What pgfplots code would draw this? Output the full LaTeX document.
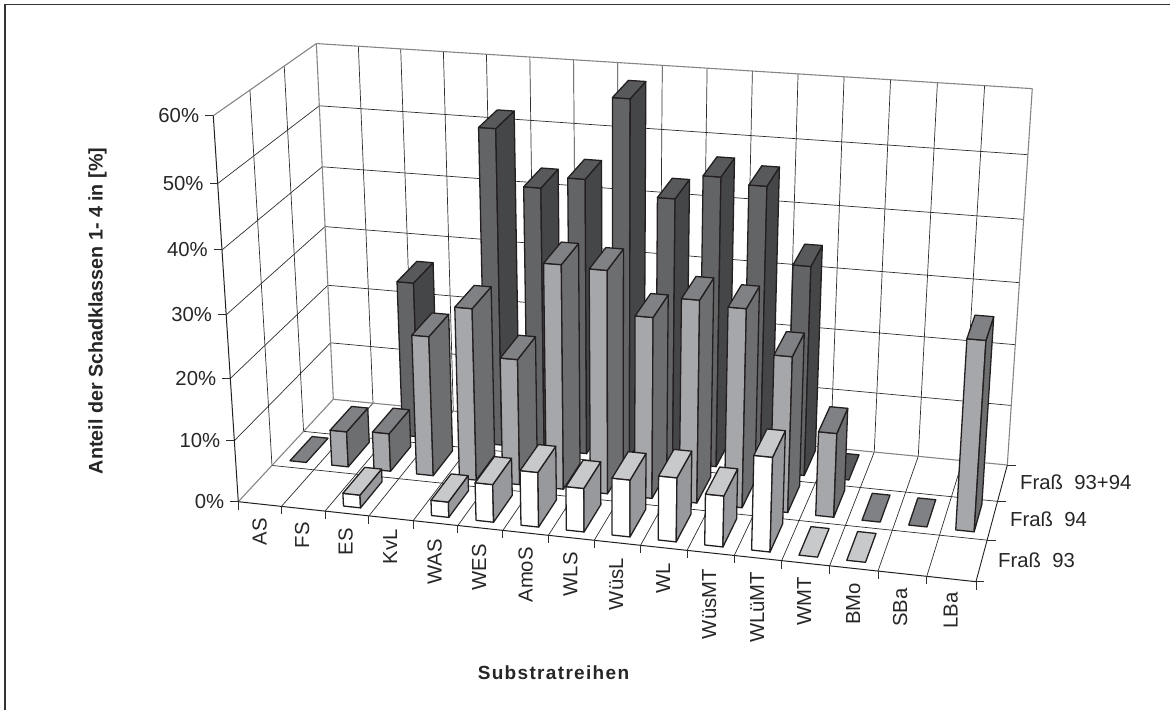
\documentclass[border=0pt]{standalone}
\usepackage{pgfplots}
\usepackage{pgfplotstable}
\usepackage{fontspec}
\pgfplotsset{compat=1.18}
\setmainfont{Liberation Sans}

\definecolor{edge}{HTML}{231F20}
\definecolor{gridline}{HTML}{2E2E2E}
\definecolor{wallline}{HTML}{858585}
\definecolor{fA}{HTML}{FFFFFF}\definecolor{tA}{HTML}{C8C9CB}\definecolor{sA}{HTML}{97999C}
\definecolor{fB}{HTML}{A6A7AA}\definecolor{tB}{HTML}{808184}\definecolor{sB}{HTML}{6D6E70}
\definecolor{fC}{HTML}{636466}\definecolor{tC}{HTML}{58595B}\definecolor{sC}{HTML}{454648}

% Anteil in % per substrate series; cat = position on the substrate axis
\pgfplotstableread{
cat val
2 2.1
4 2.5
5 6.1
6 8.8
7 7.0
8 9.1
9 10.2
10 8.1
11 14.9
12 0
13 0
}\frassA
\pgfplotstableread{
cat val
0 0
1 5.9
2 6.3
3 22.9
4 28.0
5 20.5
6 36.1
7 35.8
8 29.1
9 32.4
10 31.7
11 24.9
12 13.5
13 0
14 0
15 30.0
}\frassB
\pgfplotstableread{
cat val
2 26.0
4 51.8
5 43.0
6 44.9
7 57.8
8 42.9
9 46.8
10 45.9
11 34.0
12 0
}\frassC

% Central projection of the unit chart box (u along the substrates,
% v along the series, w up) onto the drawing plane
\newcommand\proj[4]{%
  \pgfmathsetmacro\den{-0.06756*#2+0.09765*#3-0.062*#4+1}%
  \pgfmathsetmacro\tx{(671.76*#2+127.55*#3-38.22*#4+238.3)/\den}%
  \pgfmathsetmacro\ty{(40.7*#2-63.41*#3-393.17*#4+501.7)/\den}%
  \expandafter\edef\csname pt#1\endcsname{(\tx,\ty)}}

\newcommand\gline[8]{% colour, width, then two box points
  \proj{P}{#3}{#4}{#5}\proj{Q}{#6}{#7}{#8}%
  \edef\tmp{\noexpand\addplot[draw=#1,line width=#2,forget plot] coordinates {\ptP \ptQ};}\tmp}

\newcommand\face[5]{% colour and four corners
  \edef\tmp{\noexpand\addplot[fill=#1,draw=edge,line width=1.3pt,line join=round,forget plot]
    coordinates {\csname pt#2\endcsname \csname pt#3\endcsname \csname pt#4\endcsname \csname pt#5\endcsname} -- cycle;}\tmp}

\newcommand\onebar[6]{% series, category, value, front, top, side
  \pgfmathsetmacro\ua{(#2+0.30)/16}\pgfmathsetmacro\ub{(#2+0.69)/16}%
  \pgfmathsetmacro\va{(#1+0.17)/3}\pgfmathsetmacro\vb{(#1+0.88)/3}%
  \pgfmathsetmacro\wt{#3/60}%
  \proj{A}{\ua}{\va}{0}\proj{B}{\ub}{\va}{0}\proj{C}{\ub}{\va}{\wt}\proj{D}{\ua}{\va}{\wt}%
  \proj{E}{\ub}{\vb}{0}\proj{F}{\ub}{\vb}{\wt}\proj{G}{\ua}{\vb}{\wt}%
  \pgfmathparse{#3>0?1:0}\ifnum\pgfmathresult>0
    \face{#4}{A}{B}{C}{D}\face{#6}{B}{E}{F}{C}%
  \fi
  \face{#5}{D}{C}{F}{G}}

\newcommand\drawseries[5]{%
  \pgfplotstablegetrowsof{#1}\pgfmathtruncatemacro\lastrow{\pgfplotsretval-1}%
  \pgfplotsforeachungrouped \r in {0,...,\lastrow}{%
    \pgfplotstablegetelem{\r}{cat}\of{#1}\let\ci\pgfplotsretval
    \pgfplotstablegetelem{\r}{val}\of{#1}\let\vl\pgfplotsretval
    \onebar{#2}{\ci}{\vl}{#3}{#4}{#5}}}

\newcommand\catlabel[3]{\node[rotate=90,anchor=base east,inner sep=0pt] at (axis cs:#1,#2) {#3};}

\begin{document}
\begin{tikzpicture}[font=\fontsize{20.3}{23}\selectfont, text=black!85]
\begin{axis}[
  at={(0,0)}, anchor=south west,
  width=1170pt, height=710pt, scale only axis,
  xmin=0, xmax=1170, ymin=0, ymax=710, y dir=reverse,
  hide axis, clip=false,
]
\path[use as bounding box] (axis cs:0,0) rectangle (axis cs:1170,710);

% Rahmen
\addplot[draw=black!80,line width=1.6pt,forget plot] coordinates {(5,710) (5,4.5) (1170,4.5)};

% Gitter: Boden
\pgfplotsforeachungrouped \k in {1,...,15}{%
  \pgfmathsetmacro\u{\k/16}\gline{gridline}{0.7pt}{\u}{0}{0}{\u}{1}{0}}
\gline{gridline}{0.7pt}{0}{0.33333}{0}{1}{0.33333}{0}
\gline{gridline}{0.7pt}{0}{0.66667}{0}{1}{0.66667}{0}
% Gitter: Rueckwand
\pgfplotsforeachungrouped \k in {1,...,15}{%
  \pgfmathsetmacro\u{\k/16}\gline{gridline}{0.7pt}{\u}{1}{0}{\u}{1}{1}}
\pgfplotsforeachungrouped \k in {1,...,5}{%
  \pgfmathsetmacro\w{\k/6}\gline{gridline}{0.7pt}{0}{1}{\w}{1}{1}{\w}}
% Gitter: Seitenwand
\pgfplotsforeachungrouped \k in {1,...,5}{%
  \pgfmathsetmacro\w{\k/6}\gline{gridline}{0.7pt}{0}{0}{\w}{0}{1}{\w}}
\gline{gridline}{0.7pt}{0}{0.33333}{0}{0}{0.33333}{1}
\gline{gridline}{0.7pt}{0}{0.66667}{0}{0}{0.66667}{1}
% Kanten der Waende
\gline{wallline}{1.1pt}{0}{0}{1}{0}{1}{1}
\gline{wallline}{1.1pt}{0}{1}{1}{1}{1}{1}
\gline{wallline}{1.1pt}{0}{1}{0}{0}{1}{1}
\gline{wallline}{1.1pt}{1}{1}{0}{1}{1}{1}
\gline{wallline}{1.1pt}{0}{0}{0}{0}{1}{0}
\gline{wallline}{1.1pt}{0}{1}{0}{1}{1}{0}
% Achsen vorn
\gline{edge}{1pt}{0}{0}{0}{1}{0}{0}
\gline{edge}{1pt}{0}{0}{0}{0}{0}{1}
\gline{edge}{0.9pt}{1}{0}{0}{1}{1}{0}

% Teilstriche unten
\pgfplotsforeachungrouped \k in {0,...,16}{%
  \pgfmathsetmacro\u{\k/16}\proj{P}{\u}{0}{0}%
  \pgfmathsetmacro\ey{\ty+8}%
  \edef\tmp{\noexpand\addplot[draw=gridline,line width=0.9pt,forget plot] coordinates {(\tx,\ty) (\tx,\ey)};}\tmp}
% Teilstriche rechts
\pgfplotsforeachungrouped \k in {0,...,3}{%
  \pgfmathsetmacro\v{\k/3}\proj{P}{1}{\v}{0}%
  \pgfmathsetmacro\ex{\tx+8.5}%
  \edef\tmp{\noexpand\addplot[draw=gridline,line width=0.9pt,forget plot] coordinates {(\tx,\ty) (\ex,\ty)};}\tmp}
% Teilstriche und Beschriftung links
\pgfplotsforeachungrouped \k in {0,...,6}{%
  \pgfmathsetmacro\w{\k/6}\proj{P}{0}{0}{\w}%
  \pgfmathsetmacro\ex{\tx-8}\pgfmathsetmacro\lx{\tx-14}%
  \edef\tmp{\noexpand\addplot[draw=gridline,line width=0.9pt,forget plot] coordinates {(\tx,\ty) (\ex,\ty)};}\tmp
  \edef\tmp{\noexpand\node[anchor=east,inner sep=0pt] at (axis cs:\lx,\ty) {\ifnum\k=0 \else\k\fi 0\noexpand\%};}\tmp}

% Saeulen, von hinten nach vorn
\drawseries{\frassC}{2}{fC}{tC}{sC}
\drawseries{\frassB}{1}{fB}{tB}{sB}
\drawseries{\frassA}{0}{fA}{tA}{sA}

% Substratreihen
\catlabel{266.7}{518}{AS}
\catlabel{309}{522}{FS}
\catlabel{352.7}{528}{ES}
\catlabel{397}{529}{KvL}
\catlabel{441.7}{539}{WAS}
\catlabel{486}{544}{WES}
\catlabel{532.7}{547}{AmoS}
\catlabel{577.3}{552}{WLS}
\catlabel{623}{558}{WüsL}
\catlabel{670}{563}{WL}
\catlabel{716}{569}{WüsMT}
\catlabel{764}{571.7}{WLüMT}
\catlabel{811}{576.7}{WMT}
\catlabel{860}{583}{BMo}
\catlabel{907}{588}{SBa}
\catlabel{957.7}{592}{LBa}

% Fraß-Reihen
\node[anchor=west,inner sep=0pt] at (axis cs:998,560) {Fraß\ \ 93};
\node[anchor=west,inner sep=0pt] at (axis cs:1010,519) {Fraß\ \ 94};
\node[anchor=west,inner sep=0pt] at (axis cs:1020,482) {Fraß\ \ 93+94};

% Achsentitel
\node[rotate=90,inner sep=0pt,font=\fontsize{19.7}{23}\selectfont\bfseries] at (axis cs:97.5,311) {Anteil der Schadklassen 1- 4 in [\%]};
\node[inner sep=0pt,font=\fontsize{19}{22}\selectfont\bfseries\addfontfeature{LetterSpace=7}] at (axis cs:553.5,673) {Substratreihen};
\end{axis}
\end{tikzpicture}
\end{document}
